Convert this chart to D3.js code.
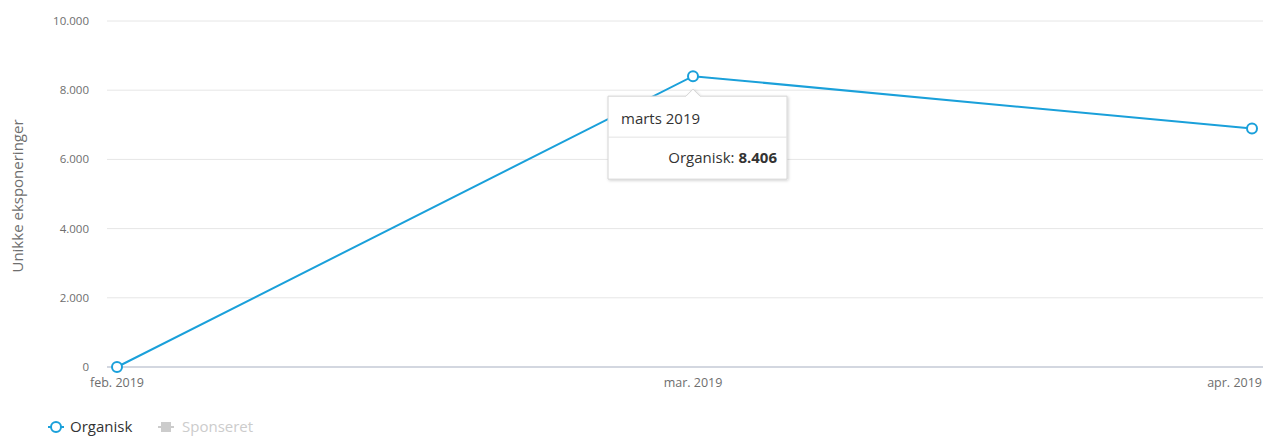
<!DOCTYPE html>
<html><head><meta charset="utf-8">
<script src="https://cdn.jsdelivr.net/npm/d3@7"></script>
<style>
body{margin:0;background:#fff;font-family:"Open Sans","Noto Sans",sans-serif;}
</style></head>
<body><svg id="c" width="1263" height="436"></svg>
<script>
const categories = ["feb. 2019", "mar. 2019", "apr. 2019"];
const organisk = [0, 8406, 6890];
const yTicks = [0, 2000, 4000, 6000, 8000, 10000];
const yTickLabels = ["0", "2.000", "4.000", "6.000", "8.000", "10.000"];
const legendItems = ["Organisk", "Sponseret"];
const tooltipTitle = "marts 2019";

const svg = d3.select("#c");
const blue = "#1aa0da";
const x = d3.scaleLinear().domain([0, 1, 2]).range([117, 693, 1252]);
const y = d3.scaleLinear().domain([0, 10000]).range([367, 21]);

svg.append("g").selectAll("line").data(yTicks.filter(d => d > 0)).join("line")
  .attr("x1", 107).attr("x2", 1263)
  .attr("y1", d => y(d)).attr("y2", d => y(d))
  .attr("stroke", "#e6e6e6").attr("stroke-width", 1);

svg.append("line").attr("x1", 107).attr("x2", 1263).attr("y1", y(0)).attr("y2", y(0))
  .attr("stroke", "#c4cad6").attr("stroke-width", 1.5);

svg.append("g").selectAll("text").data(yTicks).join("text")
  .attr("x", 89).attr("y", d => y(d)).attr("dy", "0.35em")
  .attr("text-anchor", "end").attr("fill", "#6e6e6e").attr("font-size", 11.5)
  .text((d, i) => yTickLabels[i]);

svg.append("g").selectAll("text").data(categories).join("text")
  .attr("x", (d, i) => i === categories.length - 1 ? 1262 : x(i)).attr("y", 387)
  .attr("text-anchor", (d, i) => i === categories.length - 1 ? "end" : "middle")
  .attr("fill", "#6e6e6e").attr("font-size", 12.5)
  .text(d => d);

svg.append("text").attr("transform", "translate(23,196) rotate(-90)")
  .attr("text-anchor", "middle").attr("fill", "#6e6e6e").attr("font-size", 15)
  .text("Unikke eksponeringer");

const line = d3.line().x((d, i) => x(i)).y(d => y(d));
svg.append("path").datum(organisk).attr("d", line)
  .attr("fill", "none").attr("stroke", blue).attr("stroke-width", 2);

svg.append("g").selectAll("circle").data(organisk).join("circle")
  .attr("cx", (d, i) => x(i)).attr("cy", d => y(d)).attr("r", 5)
  .attr("fill", "#fff").attr("stroke", blue).attr("stroke-width", 2);

const tx = x(1), ty = y(organisk[1]);
const defs = svg.append("defs");
const f = defs.append("filter").attr("id", "sh").attr("x", "-10%").attr("y", "-10%").attr("width", "130%").attr("height", "140%");
f.append("feDropShadow").attr("dx", 1).attr("dy", 1).attr("stdDeviation", 1.5).attr("flood-color", "#000").attr("flood-opacity", 0.18);
const tt = svg.append("g");
const bx = 608, by = ty + 20, bw = 179, bh = 83;
tt.append("path")
  .attr("d", `M${bx},${by} H${tx - 7} L${tx},${by - 7} L${tx + 7},${by} H${bx + bw} V${by + bh} H${bx} Z`)
  .attr("fill", "#fff").attr("stroke", "#d4d4d4").attr("stroke-width", 1).attr("filter", "url(#sh)");
tt.append("line").attr("x1", bx).attr("x2", bx + bw).attr("y1", by + 41).attr("y2", by + 41)
  .attr("stroke", "#e3e3e3");
tt.append("text").attr("x", bx + 13).attr("y", by + 23).attr("dy", "0.35em")
  .attr("font-size", 15).attr("fill", "#333").text(tooltipTitle);
const t2 = tt.append("text").attr("x", bx + bw - 10).attr("y", by + 62).attr("dy", "0.35em")
  .attr("text-anchor", "end").attr("font-size", 15).attr("fill", "#333");
t2.append("tspan").text("Organisk: ");
t2.append("tspan").attr("font-weight", "bold").text(d3.format(",")(organisk[1]).replace(/,/g, "."));

const lg = svg.append("g");
lg.append("line").attr("x1", 48).attr("x2", 64).attr("y1", 427).attr("y2", 427).attr("stroke", blue).attr("stroke-width", 2);
lg.append("circle").attr("cx", 56).attr("cy", 427).attr("r", 5).attr("fill", "#fff").attr("stroke", blue).attr("stroke-width", 2);
lg.append("text").attr("x", 70).attr("y", 427).attr("dy", "0.35em").attr("font-size", 15).attr("fill", "#333").text(legendItems[0]);
lg.append("line").attr("x1", 158).attr("x2", 174).attr("y1", 427).attr("y2", 427).attr("stroke", "#ccc").attr("stroke-width", 2);
lg.append("rect").attr("x", 161).attr("y", 422).attr("width", 10).attr("height", 10).attr("fill", "#ccc");
lg.append("text").attr("x", 182).attr("y", 427).attr("dy", "0.35em").attr("font-size", 15).attr("fill", "#ccc").text(legendItems[1]);
</script></body></html>
